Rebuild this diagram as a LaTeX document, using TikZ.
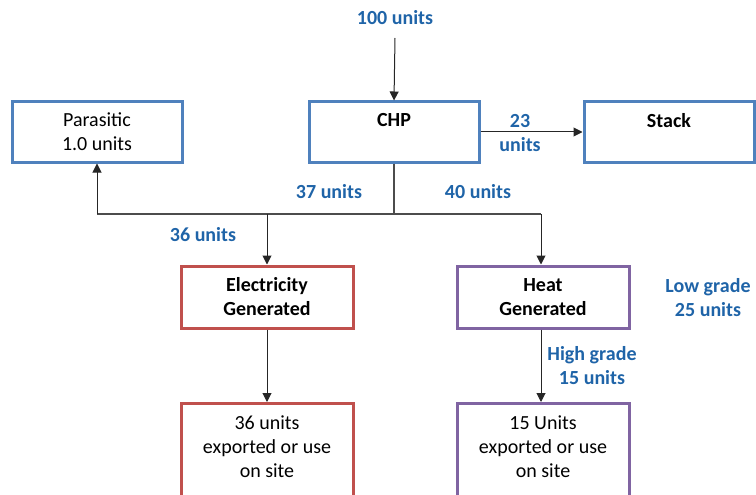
\documentclass[tikz,border=0pt]{standalone}
\usepackage{fontspec}
\setmainfont{Carlito}
\usetikzlibrary{arrows.meta}
\definecolor{boxblue}{RGB}{79,129,189}
\definecolor{boxred}{RGB}{192,80,77}
\definecolor{boxpurple}{RGB}{128,100,162}
\definecolor{flowblue}{RGB}{31,100,168}
\begin{document}
\begin{tikzpicture}[x=1pt,y=-1pt,
  every node/.style={font=\fontsize{20}{24}\selectfont, align=center, inner sep=0pt},
  unitbox/.style={draw, line width=3pt, rectangle, minimum width=170pt, minimum height=60pt},
  bluebox/.style={unitbox, draw=boxblue},
  redbox/.style={unitbox, draw=boxred},
  purplebox/.style={unitbox, draw=boxpurple},
  flowlabel/.style={text=flowblue, font=\fontsize{20}{24}\selectfont\bfseries},
  flow/.style={draw=black!85, line width=1pt, -{Triangle[length=9pt,width=9pt]}},
  plainline/.style={draw=black!70, line width=1.5pt}]
  \useasboundingbox (0,0) rectangle (756,495);
  \clip (0,0) rectangle (756,495);

  % main boxes
  \node[bluebox] (par) at (97,132) {Parasitic\\1.0 units};
  \node[bluebox] (chp) at (394,132) {\textbf{CHP}\\\mbox{}};
  \node[bluebox] (stack) at (669,132) {\textbf{Stack}\\\mbox{}};
  \node[redbox, minimum width=172pt, minimum height=62pt] (elec) at (267,297) {\textbf{Electricity}\\\textbf{Generated}};
  \node[purplebox, minimum width=172pt, minimum height=62pt] (heat) at (543,297) {\textbf{Heat}\\\textbf{Generated}};

  % output boxes, running off the lower edge
  \node[redbox, minimum width=172pt, minimum height=110pt, anchor=north] (eout) at (267,402) {};
  \node[purplebox, minimum width=172pt, minimum height=110pt, anchor=north] (hout) at (543,402) {};
  \node (etext) at (267,447) {36 units\\exported or use\\on site};
  \node (htext) at (543,447) {15 Units\\exported or use\\on site};

  % input
  \node[flowlabel] (input) at (395,18) {100 units};
  \coordinate (inTop) at (395,38);
  \draw[flow] (inTop) -- (chp.north);

  % chp to stack
  \draw[flow] (chp.east) -- (stack.west);
  \node[flowlabel] (l23) at (520,133) {23\\units};

  % distribution bus
  \coordinate (bus) at (394,214);
  \coordinate (busL) at (97,214);
  \coordinate (busE) at (267,214);
  \coordinate (busH) at (541,214);
  \draw[plainline] (chp.south) -- (bus);
  \draw[plainline] (busL) -- (busH);
  \draw[flow] (busL) -- (par.south);
  \draw[flow] (busE) -- (elec.north);
  \draw[flow] (busH) -- (heat.north -| busH);
  \node[flowlabel] (l37) at (329,192) {37 units};
  \node[flowlabel] (l40) at (478,192) {40 units};
  \node[flowlabel] (l36) at (203,235) {36 units};

  % outputs
  \draw[flow] (elec.south) -- (eout.north);
  \draw[flow] (heat.south -| busH) -- (hout.north -| busH);
  \node[flowlabel] (hg) at (592,366) {High grade\\15 units};
  \node[flowlabel] (lg) at (708,298) {Low grade\\25 units};
\end{tikzpicture}
\end{document}
